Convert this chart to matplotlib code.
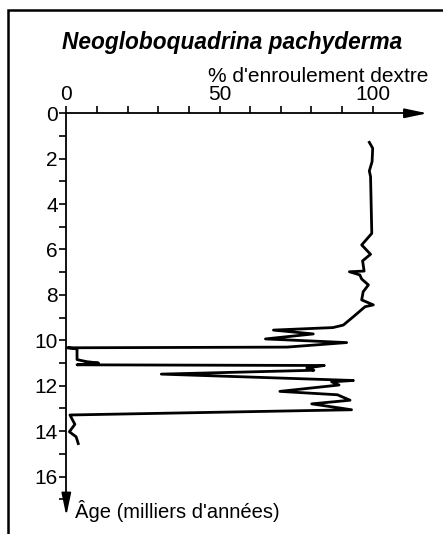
import matplotlib
matplotlib.use("Agg")
import matplotlib.pyplot as plt
from matplotlib.patches import Rectangle
from matplotlib.ticker import FixedLocator

# core record: age (ka) vs % dextral coiling
age = [1.28, 1.54, 2.13, 2.54, 2.79, 5.29, 5.80, 6.21, 6.50, 6.95, 6.98,
       7.12, 7.30, 7.56, 7.86, 8.22, 8.44, 8.52, 8.96, 9.33, 9.44, 9.55,
       9.72, 9.94, 10.10, 10.30, 10.33, 10.38, 10.85, 10.94, 11.00, 11.08,
       11.11, 11.22, 11.32, 11.49, 11.77, 11.83, 11.97, 12.25, 12.40, 12.64,
       12.80, 13.06, 13.29, 13.50, 13.70, 14.03, 14.25, 14.55]
pct = [98.9, 100.0, 99.8, 98.9, 99.3, 99.7, 96.4, 99.3, 96.7, 97.2, 92.4,
       95.8, 96.4, 98.6, 96.9, 96.4, 100.2, 97.5, 93.7, 90.4, 87.0, 67.6,
       80.6, 65.0, 91.5, 72.0, 0.4, 3.5, 3.5, 6.6, 10.5, 3.5,
       84.2, 78.5, 80.8, 31.0, 93.7, 86.6, 89.0, 69.7, 88.5, 92.6,
       80.1, 93.1, 1.2, 2.0, 2.8, 1.0, 3.2, 3.9]

x_major = [0, 50, 100]
x_minor = [10, 20, 30, 40, 60, 70, 80, 90]
y_major = [0, 2, 4, 6, 8, 10, 12, 14, 16]
y_minor = [1, 3, 5, 7, 9, 11, 13, 15, 17]

title = "Neogloboquadrina pachyderma"
xlab = "% d'enroulement dextre"
ylab = "Âge (milliers d'années)"

plt.rcParams['font.family'] = ['Liberation Sans', 'DejaVu Sans']

W, H = 443, 534
fig = plt.figure(figsize=(W / 100, H / 100), dpi=100)
ax = fig.add_axes([0, 0, 1, 1])
ax.patch.set_alpha(0)

# pixel scale of the original: x=0 at 66.3px, 3.064 px per %; y=0 at 113.3px, 22.7 px per ka
x0, sx = 66.3, 3.064
y0, sy = 113.3, 22.7
ax.set_xlim(-x0 / sx, (W - x0) / sx)
ax.set_ylim((H - y0) / sy, -y0 / sy)

ax.spines['right'].set_visible(False)
ax.spines['bottom'].set_visible(False)
ax.spines['left'].set_position(('data', 0))
ax.spines['top'].set_position(('data', 0))
ax.spines['left'].set_bounds(0, 17.4)
ax.spines['top'].set_bounds(0, 116)
for s in ('left', 'top'):
    ax.spines[s].set_linewidth(1.3)

ax.xaxis.set_ticks_position('top')
ax.xaxis.set_major_locator(FixedLocator(x_major))
ax.xaxis.set_minor_locator(FixedLocator(x_minor))
ax.yaxis.set_major_locator(FixedLocator(y_major))
ax.yaxis.set_minor_locator(FixedLocator(y_minor))
ax.tick_params(which='both', direction='out', length=5, width=1.2)
ax.tick_params(axis='x', labelsize=15, pad=1.5)
ax.tick_params(axis='y', labelsize=15, pad=1)

# axis arrows
head = '-|>,head_length=0.85,head_width=0.18'
ax.annotate('', xy=(118.7, 0), xytext=(113, 0),
            arrowprops=dict(arrowstyle=head, color='k', lw=1.3, mutation_scale=16))
ax.annotate('', xy=(0, 17.85), xytext=(0, 17.2),
            arrowprops=dict(arrowstyle=head, color='k', lw=1.3, mutation_scale=16))

ax.plot(pct, age, color='k', lw=2.0)

fig.text(232 / W, 1 - 42 / H, title, ha='center', va='center',
         fontsize=16.3, weight='bold', style='italic')
fig.text(428 / W, 1 - 76 / H, xlab, ha='right', va='center', fontsize=15)
fig.text(75 / W, 1 - 511 / H, ylab, ha='left', va='center', fontsize=14.5)

# frame around the figure (right/bottom edges fall outside the crop)
fig.add_artist(Rectangle((8 / W, -0.1), 1.2, (H - 10) / H + 0.1,
                         transform=fig.transFigure, fill=False, lw=1.8, color='k'))

fig.savefig('out.png', dpi=100)
